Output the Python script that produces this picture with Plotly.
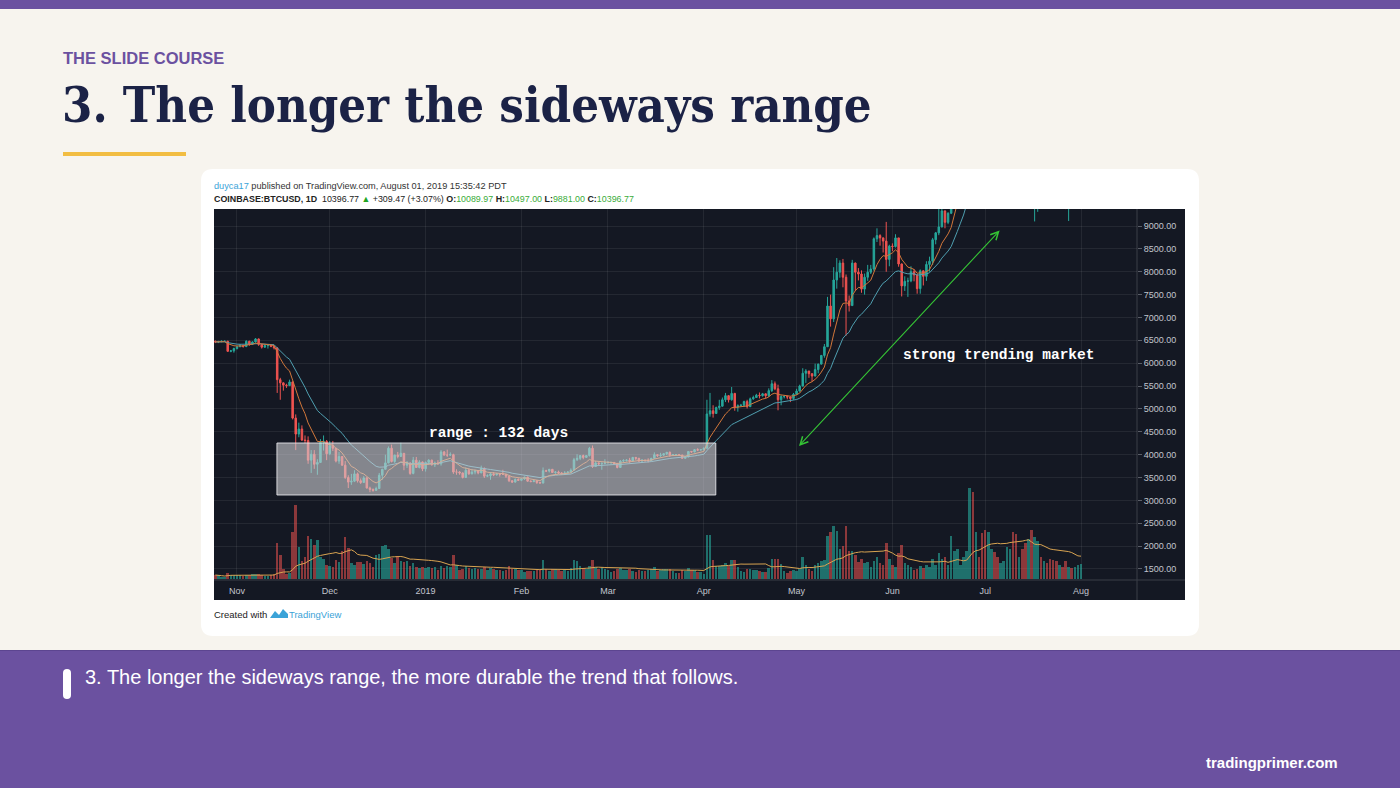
import numpy as np
import pandas as pd
import plotly.graph_objects as go

# ---------------- data (COINBASE:BTCUSD, 1D) ----------------
first_day = "2018-10-25"

opens = [
    6480, 6465, 6470, 6480, 6480, 6260, 6270,
    6320, 6360, 6390, 6365, 6480, 6420, 6465, 6530, 6410, 6350, 6385, 6390, 6370, 6335, 5640,
    5570, 5520, 5510, 5590, 4800, 4450, 4560, 4320, 4310, 3880, 4010, 3790, 3830, 4270, 4290,
    4020, 4200, 4140, 3860, 3960, 3770, 3500, 3400, 3420, 3580, 3430, 3390, 3490, 3270, 3240,
    3220, 3260, 3550, 3680, 3820, 4140, 3850, 3990, 3960, 4030, 3770, 3810, 3590, 3880, 3720, 3840,
    3690, 3830, 3880, 3780, 3820, 3800, 4060, 3990, 3990, 4000, 3620, 3620, 3600, 3500, 3660,
    3580, 3620, 3650, 3600, 3700, 3530, 3540, 3580, 3560, 3580, 3570, 3570, 3530, 3430, 3400, 3460,
    3440, 3470, 3510, 3420, 3410, 3430, 3390, 3380, 3650, 3640, 3680, 3610, 3620, 3600, 3580,
    3600, 3620, 3660, 3890, 3920, 3980, 3940, 3980, 4140, 3740, 3820, 3800, 3810,
    3820, 3830, 3830, 3800, 3720, 3860, 3870, 3880, 3860, 3940, 3920, 3860, 3880, 3870, 3870,
    3920, 4000, 3980, 3990, 4020, 4050, 3990, 4000, 4000, 3990, 3920, 3950, 4070, 4060, 4110, 4100,
    4110, 4140, 4890, 4960, 4900, 5030, 5060, 5200, 5290, 5200, 5340, 5040, 5070, 5080, 5160,
    5050, 5220, 5250, 5300, 5290, 5330, 5290, 5400, 5550, 5440, 5200, 5270, 5270, 5260, 5230,
    5320, 5390, 5500, 5780, 5830, 5770, 5720, 5860, 5980, 6170, 6360, 7250, 6970, 7820, 7990,
    8190, 7880, 7360, 7260, 8190, 7990, 7950, 7620, 7880, 7990, 8060, 8720, 8790, 8740, 8670, 8270,
    8560, 8550, 8740, 8170, 7690, 7790, 7800, 8000, 7930, 7630, 8020, 7900, 8160, 8230, 8700,
    8850, 8980, 9330, 9080, 9280, 9530, 10200, 10700, 10860, 11020, 11760, 12930, 11140, 12390, 11900,
    10820, 10600, 10850, 11980, 11150, 10980, 11240, 11480, 12300, 12570, 12100, 11350, 11810, 11390, 10250,
    10880, 9480, 9700, 10640, 10540, 10780, 10600, 10330, 9920, 9780, 9880, 9850, 9480, 9540, 9520, 9600,
    10089.97,
]
highs = [
    6495, 6490, 6500, 6495, 6490, 6290, 6340,
    6380, 6420, 6400, 6500, 6490, 6480, 6550, 6540, 6420, 6400, 6400, 6420, 6380, 6350, 5680,
    5580, 5550, 5640, 5600, 4880, 4700, 4640, 4420, 4400, 4100, 4100, 3900, 4340, 4420, 4320,
    4300, 4300, 4150, 4060, 3960, 3860, 3550, 3580, 3660, 3610, 3480, 3530, 3510, 3300, 3260,
    3300, 3600, 3690, 4000, 4180, 4220, 4000, 4060, 4260, 4030, 3860, 3840, 3950, 3950, 3880, 3850,
    3850, 3900, 3890, 3850, 3880, 4100, 4080, 4110, 4050, 4020, 3680, 3640, 3610, 3720, 3700,
    3690, 3670, 3660, 3760, 3720, 3570, 3620, 3620, 3600, 3590, 3670, 3580, 3530, 3440, 3480, 3480,
    3490, 3520, 3520, 3440, 3440, 3440, 3410, 3720, 3670, 3680, 3680, 3640, 3650, 3620, 3640,
    3640, 3700, 3930, 4010, 3990, 4000, 3990, 4170, 4200, 3860, 3830, 3830, 3900,
    3860, 3840, 3840, 3820, 3880, 3900, 3900, 3930, 3950, 3940, 3930, 3900, 3890, 3920, 3930,
    4050, 4010, 4040, 4030, 4060, 4070, 4010, 4010, 4010, 4000, 3960, 4080, 4080, 4120, 4140, 4120,
    4160, 5200, 5350, 5080, 5050, 5200, 5250, 5350, 5300, 5480, 5350, 5100, 5110, 5180, 5200,
    5250, 5290, 5330, 5360, 5350, 5340, 5450, 5630, 5600, 5530, 5300, 5300, 5290, 5270, 5350,
    5440, 5530, 5890, 5870, 5830, 5780, 5990, 5990, 6180, 6420, 7450, 7500, 8100, 8300, 8250,
    8280, 7940, 7480, 8260, 8200, 8080, 8030, 7960, 8150, 8150, 8750, 8950, 8820, 8750, 9090, 8590,
    8620, 8820, 8740, 8180, 7900, 7870, 8120, 8060, 7950, 8050, 8030, 8230, 8330, 8740, 8870,
    9390, 9460, 9340, 9300, 9600, 10240, 11200, 11150, 11100, 11800, 13880, 13330, 12450, 12400, 12200,
    11220, 10900, 12000, 12080, 11450, 11690, 11600, 12370, 12800, 13200, 12120, 11900, 11840, 11450, 11040,
    11020, 9990, 10770, 10760, 11080, 10830, 10680, 10340, 9940, 10200, 9890, 10190, 9580, 9720, 9720, 10120,
    10497.00,
]
lows = [
    6440, 6440, 6460, 6460, 6250, 6240, 6230,
    6300, 6350, 6340, 6350, 6380, 6400, 6450, 6380, 6320, 6340, 6320, 6350, 6300, 5350, 5200,
    5400, 5460, 5500, 4770, 4100, 4380, 4300, 4250, 3800, 3600, 3690, 3560, 3820, 4090, 3880,
    3990, 4080, 3830, 3800, 3760, 3470, 3270, 3340, 3400, 3390, 3360, 3390, 3260, 3180, 3190,
    3210, 3260, 3450, 3680, 3810, 3830, 3820, 3920, 3960, 3660, 3710, 3560, 3570, 3710, 3700, 3640,
    3630, 3780, 3760, 3730, 3780, 3760, 3980, 3950, 3970, 3580, 3560, 3560, 3480, 3500, 3560,
    3570, 3570, 3570, 3600, 3490, 3510, 3450, 3530, 3540, 3520, 3560, 3490, 3400, 3380, 3390, 3430,
    3420, 3450, 3410, 3400, 3400, 3360, 3370, 3370, 3620, 3610, 3600, 3580, 3580, 3570, 3580,
    3600, 3600, 3660, 3860, 3880, 3900, 3930, 3960, 3710, 3730, 3770, 3670, 3790,
    3810, 3790, 3780, 3700, 3710, 3830, 3850, 3820, 3860, 3880, 3840, 3830, 3850, 3830, 3860,
    3910, 3950, 3950, 3970, 3990, 3950, 3970, 3990, 3980, 3910, 3910, 3940, 4040, 4050, 4080, 4090,
    4090, 4140, 4830, 4810, 4900, 4980, 5050, 5150, 5140, 5180, 4960, 4940, 5050, 5040, 5010,
    5040, 5200, 5240, 5230, 5270, 5230, 5260, 5370, 5410, 4970, 5080, 5230, 5210, 5150, 5200,
    5310, 5380, 5490, 5570, 5680, 5600, 5710, 5780, 5970, 6120, 6360, 6800, 6900, 7630, 7870,
    7660, 6600, 7130, 7250, 7580, 7810, 7540, 7500, 7800, 7950, 8020, 8650, 8570, 8420, 8000, 8120,
    8450, 8530, 8110, 7460, 7580, 7450, 7770, 7790, 7520, 7520, 7700, 7800, 8000, 8150, 8600,
    8800, 8970, 8950, 9040, 9260, 9530, 10000, 10550, 10560, 10980, 11700, 10300, 10830, 11350, 10780,
    9950, 9650, 10840, 11080, 10800, 10980, 11100, 11340, 12100, 11600, 11000, 11150, 10860, 10150, 9900,
    9400, 9100, 9310, 10100, 10380, 10370, 10100, 9830, 9550, 9770, 9660, 9370, 9110, 9400, 9410, 9580,
    9881.00,
]
closes = [
    6465, 6470, 6480, 6480, 6260, 6270, 6320,
    6360, 6390, 6365, 6480, 6420, 6465, 6530, 6410, 6350, 6385, 6390, 6370, 6335, 5640, 5570,
    5520, 5510, 5590, 4800, 4450, 4560, 4320, 4310, 3880, 4010, 3790, 3830, 4270, 4290, 4020,
    4200, 4140, 3860, 3960, 3770, 3500, 3400, 3420, 3580, 3430, 3390, 3490, 3270, 3240, 3220,
    3260, 3550, 3680, 3820, 4140, 3850, 3990, 3960, 4030, 3770, 3810, 3590, 3880, 3720, 3840, 3690,
    3830, 3880, 3780, 3820, 3800, 4060, 3990, 3990, 4000, 3620, 3620, 3600, 3500, 3660, 3580,
    3620, 3650, 3600, 3700, 3530, 3540, 3580, 3560, 3580, 3570, 3570, 3530, 3430, 3400, 3460, 3440,
    3470, 3510, 3420, 3410, 3430, 3390, 3380, 3650, 3640, 3680, 3610, 3620, 3600, 3580, 3600,
    3620, 3660, 3890, 3920, 3980, 3940, 3980, 4140, 3740, 3820, 3800, 3810, 3820,
    3830, 3830, 3800, 3720, 3860, 3870, 3880, 3860, 3940, 3920, 3860, 3880, 3870, 3870, 3920,
    4000, 3980, 3990, 4020, 4050, 3990, 4000, 4000, 3990, 3920, 3950, 4070, 4060, 4110, 4100, 4110,
    4140, 4890, 4960, 4900, 5030, 5060, 5200, 5290, 5200, 5340, 5040, 5070, 5080, 5160, 5050,
    5220, 5250, 5300, 5290, 5330, 5290, 5400, 5550, 5440, 5200, 5270, 5270, 5260, 5230, 5320,
    5390, 5500, 5780, 5830, 5770, 5720, 5860, 5980, 6170, 6360, 7250, 6970, 7820, 7990, 8190,
    7880, 7360, 7260, 8190, 7990, 7950, 7620, 7880, 7990, 8060, 8720, 8790, 8740, 8670, 8270, 8560,
    8550, 8740, 8170, 7690, 7790, 7800, 8000, 7930, 7630, 8020, 7900, 8160, 8230, 8700, 8850,
    8980, 9330, 9080, 9280, 9530, 10200, 10700, 10860, 11020, 11760, 12930, 11140, 12390, 11900, 10820,
    10600, 10850, 11980, 11150, 10980, 11240, 11480, 12300, 12570, 12100, 11350, 11810, 11390, 10250, 10880,
    9480, 9700, 10640, 10540, 10780, 10600, 10330, 9920, 9780, 9880, 9850, 9480, 9540, 9520, 9600, 10090,
    10396.77,
]
volumes = [
    4, 4, 2, 2, 6, 4, 4,
    4, 4, 3, 4, 4, 5, 5, 5, 4, 3, 3, 4, 5, 36, 24, 10, 5, 6, 47, 74, 32, 18, 22, 43, 40, 34, 39, 22, 20, 14,
    13, 12, 19, 17, 28, 42, 31, 16, 14, 17, 17, 15, 18, 16, 12, 24, 25, 33, 34, 30, 21, 16, 23, 18, 17, 18, 13, 16, 12, 11, 12,
    11, 12, 11, 12, 9, 13, 11, 13, 12, 24, 14, 9, 10, 13, 11, 10, 11, 10, 10, 12, 9, 11, 10, 9, 9, 8, 9, 13, 10, 10, 9,
    9, 7, 8, 8, 8, 9, 9, 19, 10, 8, 10, 10, 9, 8, 9, 8, 11, 19, 18, 13, 11, 10, 13, 19, 12, 10, 12, 10,
    9, 7, 8, 10, 11, 9, 9, 10, 8, 7, 9, 8, 8, 9, 10, 12, 8, 9, 10, 10, 10, 8, 6, 6, 9, 8, 11, 9, 9, 7, 7,
    5, 44, 44, 19, 13, 13, 14, 16, 13, 19, 19, 12, 8, 7, 10, 10, 9, 9, 8, 7, 7, 11, 20, 20, 20, 15, 8, 6, 8, 9,
    8, 10, 22, 14, 10, 8, 14, 16, 18, 19, 43, 47, 53, 48, 30, 33, 53, 28, 28, 24, 17, 20, 16, 17, 12, 18, 22, 16, 14, 36, 20,
    14, 12, 26, 34, 16, 14, 12, 9, 10, 13, 11, 14, 12, 20, 14, 26, 20, 22, 14, 43, 28, 30, 14, 22, 28, 91, 87, 47, 22, 46,
    49, 47, 30, 27, 22, 16, 18, 32, 30, 47, 45, 22, 30, 36, 40, 49, 42, 38, 22, 18, 16, 20, 19, 18, 14, 12, 18, 12, 11, 12, 14,
    15,
]

month_ticks = ["2018-11-01", "2018-12-01", "2019-01-01", "2019-02-01", "2019-03-01",
               "2019-04-01", "2019-05-01", "2019-06-01", "2019-07-01", "2019-08-01"]
month_labels = ["Nov", "Dec", "2019", "Feb", "Mar", "Apr", "May", "Jun", "Jul", "Aug"]
price_ticks = [1500, 2000, 2500, 3000, 3500, 4000, 4500, 5000, 5500, 6000, 6500,
               7000, 7500, 8000, 8500, 9000]

# ---------------- helpers ----------------
W, H = 1400, 788


def px(x):
    return x / W


def py(y):
    return 1 - y / H


def rounded_path(x0, y0, x1, y1, r):
    return (f"M {px(x0 + r)},{py(y0)} L {px(x1 - r)},{py(y0)} "
            f"Q {px(x1)},{py(y0)} {px(x1)},{py(y0 + r)} L {px(x1)},{py(y1 - r)} "
            f"Q {px(x1)},{py(y1)} {px(x1 - r)},{py(y1)} L {px(x0 + r)},{py(y1)} "
            f"Q {px(x0)},{py(y1)} {px(x0)},{py(y1 - r)} L {px(x0)},{py(y0 + r)} "
            f"Q {px(x0)},{py(y0)} {px(x0 + r)},{py(y0)} Z")


def rect(x0, y0, x1, y1, color, layer="below"):
    return dict(type="rect", xref="paper", yref="paper", x0=px(x0), x1=px(x1),
                y0=py(y1), y1=py(y0), fillcolor=color, line=dict(width=0), layer=layer)


def hline(x0, x1, y, color, layer="below"):
    return dict(type="line", xref="paper", yref="paper", x0=px(x0), x1=px(x1),
                y0=py(y), y1=py(y), line=dict(color=color, width=1), layer=layer)


def vline(x, y0, y1, color, layer="below"):
    return dict(type="line", xref="paper", yref="paper", x0=px(x), x1=px(x),
                y0=py(y0), y1=py(y1), line=dict(color=color, width=1), layer=layer)


def label(x, y, text, family, size, color, xanchor="left"):
    return dict(xref="paper", yref="paper", x=px(x), y=py(y), text=text, showarrow=False,
                xanchor=xanchor, yanchor="middle",
                font=dict(family=family, size=size, color=color))


dates = pd.date_range(first_day, periods=len(closes), freq="D")
close_s = pd.Series(closes)
ema_fast = close_s.ewm(span=9, adjust=False).mean()
ema_slow = close_s.ewm(span=21, adjust=False).mean()
vol_ma = pd.Series(volumes).rolling(20, min_periods=1).mean()

UP, DOWN = "#26a69a", "#ef5350"
vol_colors = ["rgba(38,166,154,0.62)" if c >= o else "rgba(239,83,80,0.55)"
              for o, c in zip(opens, closes)]

fig = go.Figure()

fig.add_trace(go.Bar(
    x=dates, y=volumes, yaxis="y2", marker=dict(color=vol_colors, line=dict(width=0)),
    width=0.82 * 86400000, hoverinfo="skip", showlegend=False))
fig.add_trace(go.Scatter(
    x=dates, y=vol_ma, yaxis="y2", mode="lines", line=dict(color="#d9a451", width=1),
    hoverinfo="skip", showlegend=False))
fig.add_trace(go.Candlestick(
    x=dates, open=opens, high=highs, low=lows, close=closes,
    increasing=dict(line=dict(color=UP, width=1), fillcolor=UP),
    decreasing=dict(line=dict(color=DOWN, width=1), fillcolor=DOWN),
    whiskerwidth=0, showlegend=False))
fig.add_trace(go.Scatter(
    x=dates, y=ema_slow, mode="lines", line=dict(color="#4f9fb0", width=1),
    hoverinfo="skip", showlegend=False))
fig.add_trace(go.Scatter(
    x=dates, y=ema_fast, mode="lines", line=dict(color="#d2773a", width=1),
    hoverinfo="skip", showlegend=False))

purple = "#6b51a0"
shapes = [
    rect(0, 0, 1400, 9, purple),
    rect(0, 650, 1400, 788, purple),
    hline(0, 1400, 650.5, "#5c4590"),
    rect(63, 152, 186, 156, "#f2bd42"),
    dict(type="path", xref="paper", yref="paper", path=rounded_path(201, 169, 1199, 636, 12),
         fillcolor="#ffffff", line=dict(width=0), layer="below"),
    rect(214, 209, 1185, 600, "#141823"),
    vline(1137, 209, 600, "#3a3e49"),
    hline(214, 1185, 580, "#3a3e49"),
    dict(type="path", xref="paper", yref="paper", path=rounded_path(63, 669, 71, 699, 4),
         fillcolor="#ffffff", line=dict(width=0), layer="above"),
    # TradingView logo glyph
    dict(type="path", xref="paper", yref="paper",
         path=f"M {px(270)},{py(618)} L {px(275)},{py(611)} L {px(279)},{py(615)} "
              f"L {px(283)},{py(609)} L {px(288)},{py(614)} L {px(288)},{py(618)} Z",
         fillcolor="#3ba3d8", line=dict(width=0), layer="above"),
    # range box
    dict(type="rect", xref="x", yref="y", x0="2018-11-13 22:00", x1="2019-04-04 21:00",
         y0=3118, y1=4255, fillcolor="rgba(214,214,219,0.58)",
         line=dict(color="rgba(235,235,240,0.85)", width=1), layer="above"),
]

green = "#3aac3a"
card_font = "Liberation Sans"
annotations = [
    label(61, 58, "<b>THE SLIDE COURSE</b>", "Liberation Sans", 16.5, purple),
    label(60, 105, "<b>3. The longer the sideways range</b>",
          "DejaVu Serif Condensed, DejaVu Serif", 48.6, "#1b2246"),
    label(212, 186, "<span style='color:#3ba3d8'>duyca17</span> published on TradingView.com, "
                    "August 01, 2019 15:35:42 PDT", card_font, 9.2, "#333333"),
    label(212, 199, ("<b>COINBASE:BTCUSD, 1D</b>  10396.77 <span style='color:#22a422'>▲</span>"
                     " +309.47 (+3.07%) <b>O:</b><span style='color:" + green + "'>10089.97</span>"
                     " <b>H:</b><span style='color:" + green + "'>10497.00</span>"
                     " <b>L:</b><span style='color:" + green + "'>9881.00</span>"
                     " <b>C:</b><span style='color:" + green + "'>10396.77</span>"),
          card_font, 8.9, "#222222"),
    label(212, 614, "Created with", card_font, 9.5, "#222222"),
    label(287, 614, "TradingView", card_font, 9.5, "#3ba3d8"),
    label(498, 433, "<b>range : 132 days</b>", "Liberation Mono", 14.5, "#ffffff", "center"),
    label(998, 355, "<b>strong trending market</b>", "Liberation Mono", 14.5, "#ffffff", "center"),
    dict(xref="paper", yref="paper", x=px(799), y=py(446), ax=202, ay=-217, text="",
         showarrow=True, arrowside="end+start", arrowhead=5, startarrowhead=5,
         arrowsize=1.4, startarrowsize=1.4, arrowwidth=1.1, arrowcolor="#35c435",
         standoff=0, startstandoff=0),
    label(83, 677, "3. The longer the sideways range, the more durable the trend that follows.",
          "Liberation Sans", 20, "#ffffff"),
    label(1340, 762, "<b>tradingprimer.com</b>", "Liberation Sans", 15, "#ffffff", "right"),
]

grid = "rgba(255,255,255,0.07)"
tick_font = dict(family="Liberation Sans", size=9, color="#c2c5cd")

fig.update_layout(
    width=W, height=H, autosize=False,
    margin=dict(l=0, r=0, t=0, b=0, pad=0),
    paper_bgcolor="#f7f4ee", plot_bgcolor="rgba(0,0,0,0)",
    showlegend=False, hovermode=False, bargap=0,
    shapes=shapes, annotations=annotations,
    xaxis=dict(domain=[px(214), px(1137)], type="date",
               range=["2018-10-24 13:30", "2019-08-19 02:40"],
               tickvals=month_ticks, ticktext=month_labels, ticks="",
               showgrid=True, gridcolor=grid, gridwidth=1, zeroline=False, showline=False,
               tickfont=tick_font, ticklabelstandoff=5,
               rangeslider=dict(visible=False), fixedrange=True),
    yaxis=dict(domain=[py(579), py(209)], range=[1281, 9372], side="right",
               tickvals=price_ticks, ticktext=[f"{v:.2f}" for v in price_ticks],
               ticks="outside", ticklen=4, tickcolor="#5a5e68",
               showgrid=True, gridcolor=grid, gridwidth=1, zeroline=False, showline=False,
               tickfont=tick_font, fixedrange=True),
    yaxis2=dict(domain=[py(579), py(209)], range=[0, 370], overlaying="y", visible=False,
                fixedrange=True),
)

fig.write_html("out.html", config={"displayModeBar": False},
               post_script="document.body.style.margin='0';document.body.style.overflow='hidden';")
